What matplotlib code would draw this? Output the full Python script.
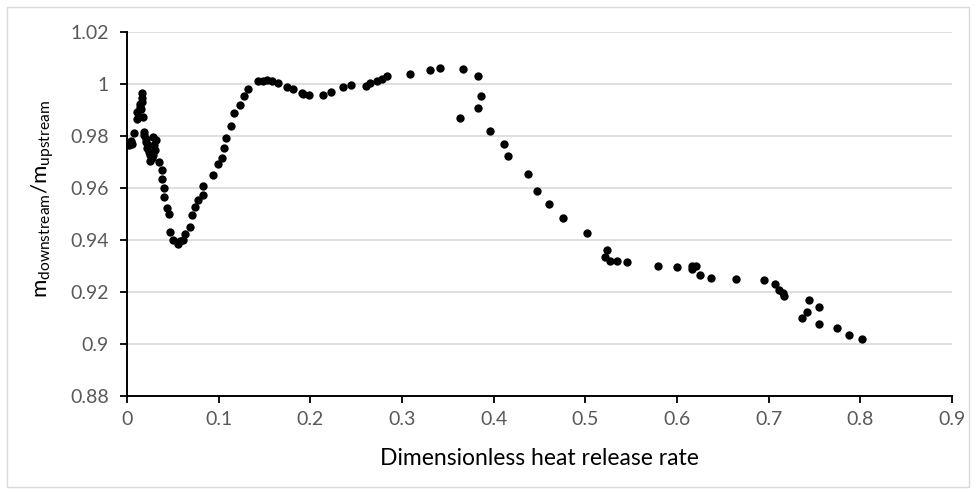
import matplotlib
matplotlib.use("Agg")
import matplotlib.pyplot as plt
from matplotlib.patches import Rectangle

x_vals = [0.002, 0.004, 0.0051, 0.0076, 0.0106, 0.0113, 0.0142, 0.015, 0.016, 0.0165, 0.0167, 0.0178,
          0.0189, 0.0207, 0.021, 0.0233, 0.0244, 0.0269, 0.0287, 0.0316, 0.0305, 0.0287, 0.0295, 0.0255,
          0.0349, 0.0378, 0.0378, 0.0407, 0.0404, 0.0433, 0.0455, 0.0469, 0.0505, 0.056, 0.0614, 0.0633,
          0.0687, 0.0705, 0.0742, 0.0778, 0.0826, 0.0832, 0.0941, 0.0996, 0.1033, 0.1058, 0.108, 0.1131,
          0.1167, 0.1233, 0.1276, 0.1324, 0.143, 0.148, 0.153, 0.158, 0.165, 0.1742, 0.1807, 0.1906,
          0.1924, 0.1989, 0.2135, 0.2222, 0.2353, 0.2444, 0.2607, 0.2651, 0.2724, 0.2778, 0.2833, 0.3087,
          0.3305, 0.3414, 0.3669, 0.3636, 0.3829, 0.3829, 0.3858, 0.3963, 0.4116, 0.416, 0.438, 0.447,
          0.4607, 0.4753, 0.5015, 0.5233, 0.5214, 0.5269, 0.5349, 0.5451, 0.5789, 0.6003, 0.616, 0.6207,
          0.616, 0.6254, 0.6371, 0.6647, 0.6945, 0.7069, 0.7116, 0.7153, 0.7164, 0.7436, 0.7414, 0.736,
          0.7553, 0.7553, 0.775, 0.788, 0.802, 0.0215, 0.025, 0.058, 0.0148, 0.019]
y_vals = [0.9765, 0.978, 0.9771, 0.9812, 0.9864, 0.9893, 0.9913, 0.9905, 0.9932, 0.9945, 0.9964, 0.9874,
          0.9816, 0.979, 0.9775, 0.9765, 0.9739, 0.9714, 0.9797, 0.9784, 0.9746, 0.9726, 0.9765, 0.9705,
          0.97, 0.9671, 0.9636, 0.9598, 0.9566, 0.9523, 0.9501, 0.943, 0.9401, 0.9383, 0.9399, 0.9424,
          0.945, 0.9495, 0.9527, 0.9553, 0.9572, 0.9607, 0.9649, 0.9694, 0.9714, 0.9752, 0.9794, 0.9838,
          0.9889, 0.9919, 0.9954, 0.998, 1.0012, 1.001, 1.0017, 1.001, 1.0005, 0.9987, 0.998, 0.9964,
          0.9962, 0.9958, 0.9956, 0.997, 0.9987, 0.9997, 0.9994, 1.0003, 1.0013, 1.0018, 1.003, 1.004,
          1.0053, 1.006, 1.0059, 0.9869, 1.003, 0.9906, 0.9955, 0.9819, 0.9771, 0.9724, 0.9655, 0.959,
          0.9537, 0.9486, 0.9426, 0.936, 0.9334, 0.9318, 0.9318, 0.9315, 0.9301, 0.9296, 0.9298, 0.9298,
          0.929, 0.9266, 0.9253, 0.9251, 0.9244, 0.923, 0.9209, 0.9195, 0.9184, 0.917, 0.9122, 0.91,
          0.9141, 0.9075, 0.906, 0.9035, 0.902, 0.9755, 0.9725, 0.9395, 0.9925, 0.9805]

x_ticks = [0, 0.1, 0.2, 0.3, 0.4, 0.5, 0.6, 0.7, 0.8, 0.9]
x_tick_labels = ["0", "0.1", "0.2", "0.3", "0.4", "0.5", "0.6", "0.7", "0.8", "0.9"]
y_ticks = [0.88, 0.9, 0.92, 0.94, 0.96, 0.98, 1.0, 1.02]
y_tick_labels = ["0.88", "0.9", "0.92", "0.94", "0.96", "0.98", "1", "1.02"]

plt.rcParams['font.family'] = ['Lato', 'DejaVu Sans']
plt.rcParams['mathtext.fontset'] = 'custom'
plt.rcParams['mathtext.rm'] = 'Lato'
plt.rcParams['mathtext.it'] = 'Lato'

fig = plt.figure(figsize=(9.76, 4.93), dpi=100)
fig.patches.append(Rectangle((0.007, 0.012), 0.986, 0.974, transform=fig.transFigure,
                             fill=False, edgecolor='#d9d9d9', linewidth=1))
ax = fig.add_axes([0.130, 0.197, 0.8455, 0.738])

ax.scatter(x_vals, y_vals, s=36, color='black', zorder=3, linewidths=0)

ax.set_xlim(0, 0.9)
ax.set_ylim(0.88, 1.02)
ax.set_xticks(x_ticks)
ax.set_xticklabels(x_tick_labels)
ax.set_yticks(y_ticks)
ax.set_yticklabels(y_tick_labels)
ax.tick_params(axis='both', labelsize=14, labelcolor='#595959', color='black', length=5, width=1.3)
ax.tick_params(axis='x', pad=6)
ax.tick_params(axis='y', pad=8)

ax.grid(axis='y', color='#d9d9d9', linewidth=1.2, zorder=0)
ax.set_axisbelow(True)
for s in ['top', 'right']:
    ax.spines[s].set_visible(False)
for s in ['left', 'bottom']:
    ax.spines[s].set_color('black')
    ax.spines[s].set_linewidth(1.4)

ax.set_xlabel('Dimensionless heat release rate', fontsize=16.5, color='#000000', labelpad=14)
ax.set_ylabel(r'$\mathregular{m_{downstream}/m_{upstream}}$', fontsize=16, color='#000000')
ax.yaxis.set_label_coords(-0.086, 0.54)

fig.savefig('out.png', dpi=100)
